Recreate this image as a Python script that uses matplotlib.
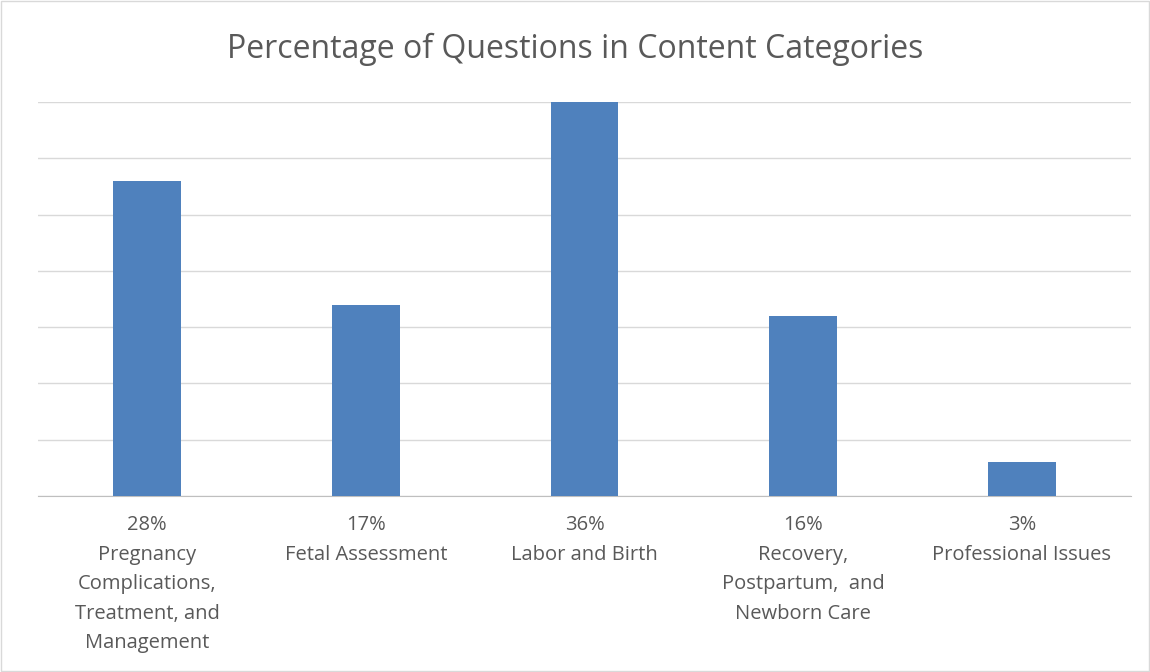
import numpy as np
import matplotlib.pyplot as plt
from matplotlib.patches import Rectangle

categories = ['Pregnancy\nComplications,\nTreatment, and\nManagement',
              'Fetal Assessment',
              'Labor and Birth',
              'Recovery,\nPostpartum,  and\nNewborn Care',
              'Professional Issues']
percent_labels = ['28%', '17%', '36%', '16%', '3%']
values = [0.28, 0.17, 0.36, 0.16, 0.03]

plt.rcParams['font.family'] = ['Open Sans', 'DejaVu Sans']
text_color = '#595959'

fig = plt.figure(figsize=(11.5, 6.72), dpi=100)
ax = fig.add_axes([0.033, 0.262, 0.9505, 0.586])

x = np.arange(len(values))
ax.bar(x, values, width=0.31, color='#4f81bd', zorder=3)

ax.set_xlim(-0.5, len(values) - 0.5)
ax.set_ylim(0, 0.35)
ax.set_yticks(np.arange(0, 0.351, 0.05))
ax.yaxis.grid(True, color='#d9d9d9', linewidth=1)
ax.tick_params(axis='y', left=False, labelleft=False)
ax.set_xticks(x)
ax.set_xticklabels([p + '\n' + c for p, c in zip(percent_labels, categories)],
                   fontsize=14.5, color=text_color, linespacing=1.63)
ax.tick_params(axis='x', length=0, pad=14)
for s in ['left', 'right', 'top']:
    ax.spines[s].set_visible(False)
ax.spines['bottom'].set_color('#bfbfbf')

fig.text(0.5, 0.927, 'Percentage of Questions in Content Categories',
         ha='center', va='center', fontsize=23, color=text_color)

fig.patches.append(Rectangle((0.001, 0.001), 0.998, 0.998, transform=fig.transFigure,
                             fill=False, edgecolor='#d9d9d9', linewidth=1))

fig.savefig('out.png', dpi=100)
